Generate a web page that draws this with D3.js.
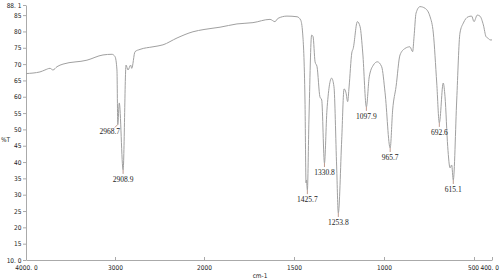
<!DOCTYPE html>
<html>
<head>
<meta charset="utf-8">
<script src="https://cdn.jsdelivr.net/npm/d3@7"></script>
<style>
  body { margin: 0; background: #fff; }
  svg { display: block; }
</style>
</head>
<body>
<div id="chart"></div>
<script>
// IR spectrum, wavenumber (cm-1) vs %T
var wavenumber = [4000, 3843, 3787, 3730, 3697, 3652, 3584, 3315, 3135, 3034, 3000, 2978, 2968.7, 2952, 2908.9,
  2876, 2854, 2824, 2812, 2775, 2719, 2573, 2461, 2303, 2124, 2000, 1911, 1817, 1728, 1633, 1606, 1589, 1539,
  1483, 1463, 1452, 1439, 1433, 1431, 1425.7, 1417, 1402, 1394, 1383, 1372, 1356, 1346, 1330.8, 1317, 1291,
  1278, 1263, 1253.8, 1235, 1222, 1211, 1202, 1194, 1179, 1171, 1148, 1133, 1118, 1097.9, 1082, 1059, 1037,
  1013, 994, 965.7, 952, 933, 911, 883, 856, 841, 833, 822, 800, 772, 744, 726, 707, 692.6, 671, 661, 646,
  633, 624, 615.1, 596, 578, 559, 532, 513, 500, 482, 467, 448, 433, 421, 411, 400];
var transmittance = [67.1, 67.6, 68.2, 68.7, 68.2, 69.2, 70.0, 71.2, 72.8, 73.0, 72.3, 68.2, 51.5, 58.1, 37.6,
  69.7, 68.2, 69.7, 68.7, 73.8, 74.5, 75.3, 75.9, 78.0, 79.9, 80.6, 81.3, 82.3, 82.7, 83.7, 83.0, 84.0, 84.7,
  84.5, 83.5, 79.5, 59.0, 33.6, 34.5, 31.4, 52.9, 78.9, 78.4, 70.7, 69.2, 60.0, 59.0, 39.7, 55.9, 65.7,
  63.1, 38.5, 24.4, 46.8, 62.4, 61.2, 58.5, 63.0, 73.4, 74.8, 83.0, 81.5, 73.4, 56.9, 66.1, 69.7, 70.7,
  69.2, 61.2, 44.3, 55.9, 63.1, 72.8, 74.8, 75.3, 73.8, 78.4, 85.6, 87.6, 87.1, 84.5, 79.5, 64.2, 52.0, 64.2, 60.0, 44.7,
  38.2, 39.1, 34.5, 59.0, 79.5, 82.6, 84.5, 84.7, 83.0, 85.0, 84.7, 82.0, 78.4, 77.9, 77.4, 77.4];

var peakWn = [2968.7, 2908.9, 1425.7, 1330.8, 1253.8, 1097.9, 965.7, 692.6, 615.1];
var peakLabels = ["2968.7", "2908.9", "1425.7", "1330.8", "1253.8", "1097.9", "965.7", "692.6", "615.1"];

var xTicks = [4000, 3000, 2000, 1500, 1000, 500, 400];
var xTickLabels = ["4000. 0", "3000", "2000", "1500", "1000", "500", "400. 0"];
var yTicks = [88.1, 85, 80, 75, 70, 65, 60, 55, 50, 45, 40, 35, 30, 25, 20, 15, 10];
var yTickLabels = ["88. 1", "85", "80", "75", "70", "65", "60", "55", "50", "45", "40", "35", "30", "25", "20", "15", "10. 0"];

var w = 500, h = 280;

var svg = d3.select("#chart").append("svg")
  .attr("width", w).attr("height", h);

svg.append("rect").attr("width", w).attr("height", h).attr("fill", "#fff");

// spectrometer scale: region below 2000 is expanded 2x
var x = d3.scaleLinear().domain([4000, 2000, 400]).range([26, 204, 492]);
var y = d3.scaleLinear().domain([10, 88.1]).range([260, 5]);

var axisFont = "'DejaVu Sans Condensed', 'Liberation Sans', sans-serif";

var xAxis = svg.append("g")
  .attr("transform", "translate(0," + y(10) + ")")
  .call(d3.axisBottom(x).tickValues(xTicks)
    .tickFormat(function(d, i) { return xTickLabels[i]; })
    .tickSizeInner(-3).tickSizeOuter(0).tickPadding(5));

var yAxis = svg.append("g")
  .attr("transform", "translate(" + x(4000) + ",0)")
  .call(d3.axisLeft(y).tickValues(yTicks)
    .tickFormat(function(d, i) { return yTickLabels[i]; })
    .tickSizeInner(3).tickSizeOuter(0).tickPadding(1.5));

[xAxis, yAxis].forEach(function(g) {
  g.select(".domain").attr("stroke", "#aaa").attr("stroke-width", 1);
  g.selectAll(".tick line").attr("stroke", "#aaa");
  g.selectAll("text")
    .attr("fill", "#222")
    .style("font-family", axisFont)
    .style("font-size", "6.5px");
});

// last two x labels crowd the right edge
xAxis.selectAll(".tick text")
  .filter(function(d) { return d === 400; })
  .attr("text-anchor", "end")
  .attr("x", 6.5);
xAxis.selectAll(".tick text")
  .filter(function(d) { return d === 500; })
  .attr("x", -1);

svg.append("text")
  .attr("x", 1).attr("y", 142)
  .attr("fill", "#222")
  .style("font-family", axisFont).style("font-size", "6.5px")
  .text("%T");

svg.append("text")
  .attr("x", 260).attr("y", 278)
  .attr("text-anchor", "middle")
  .attr("fill", "#222")
  .style("font-family", axisFont).style("font-size", "6.5px")
  .text("cm-1");

var points = wavenumber.map(function(d, i) { return [d, transmittance[i]]; });

var line = d3.line()
  .x(function(d) { return x(d[0]); })
  .y(function(d) { return y(d[1]); })
  .curve(d3.curveMonotoneX);

svg.append("path")
  .datum(points)
  .attr("fill", "none")
  .attr("stroke", "#a0a0a0")
  .attr("stroke-width", 1)
  .attr("d", line);

// peak annotations
var peaks = peakWn.map(function(p, i) {
  var k = wavenumber.indexOf(p);
  return { wn: p, t: transmittance[k], label: peakLabels[i], left: i === 0 };
});

var pk = svg.selectAll("g.peak")
  .data(peaks)
  .enter().append("g")
  .attr("class", "peak");

pk.append("line")
  .attr("x1", function(d) { return x(d.wn); })
  .attr("y1", function(d) { return y(d.t); })
  .attr("x2", function(d) { return d.left ? x(d.wn) - 3 : x(d.wn); })
  .attr("y2", function(d) { return y(d.t) + (d.left ? 3 : 4); })
  .attr("stroke", "#b08070")
  .attr("stroke-width", 0.8);

pk.append("text")
  .attr("x", function(d) { return d.left ? x(d.wn) - 8 : x(d.wn); })
  .attr("y", function(d) { return y(d.t) + (d.left ? 9 : 12); })
  .attr("text-anchor", "middle")
  .attr("fill", "#222")
  .style("font-family", "'Liberation Serif', 'DejaVu Serif', serif")
  .style("font-size", "7.5px")
  .text(function(d) { return d.label; });
</script>
</body>
</html>
